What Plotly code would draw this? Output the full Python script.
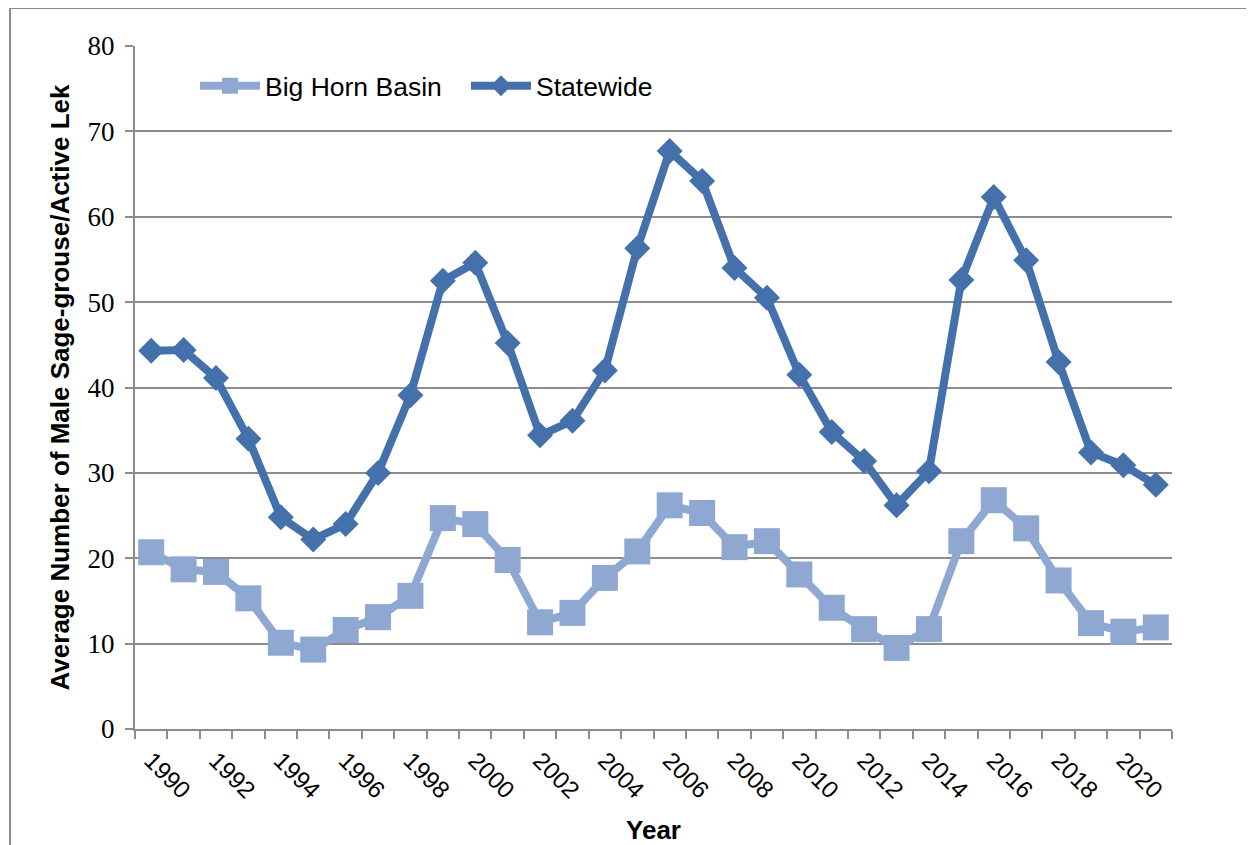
import plotly.graph_objects as go

years = list(range(1990, 2022))
big_horn_basin = [20.7, 18.7, 18.4, 15.3, 10.1, 9.3, 11.6, 13.1, 15.6, 24.7,
                  24.0, 19.8, 12.5, 13.6, 17.7, 20.8, 26.2, 25.3, 21.3, 22.0,
                  18.1, 14.2, 11.7, 9.5, 11.7, 22.0, 26.8, 23.5, 17.4, 12.4,
                  11.4, 11.9]
statewide = [44.3, 44.4, 41.1, 34.0, 24.8, 22.2, 24.0, 30.0, 39.1, 52.5,
             54.6, 45.2, 34.4, 36.1, 42.0, 56.3, 67.7, 64.2, 54.0, 50.5,
             41.5, 34.8, 31.4, 26.2, 30.2, 52.6, 62.3, 54.9, 43.0, 32.4,
             30.9, 28.6]
tick_years = list(range(1990, 2021, 2))
tick_labels = [str(y) for y in tick_years]

OFF = 8  # page body margin
W, H = 1254 - OFF, 845 - OFF
ML, MR, MT, MB = 135 - OFF, 82, 46 - OFF, 116
PW, PH = W - ML - MR, H - MT - MB

c_bhb = "#8FA8D1"
c_sw = "#4471AB"

fig = go.Figure()
fig.add_trace(go.Scatter(
    x=years, y=big_horn_basin, name="Big Horn Basin", mode="lines+markers",
    line=dict(color=c_bhb, width=8),
    marker=dict(symbol="square", size=26, color=c_bhb),
))
fig.add_trace(go.Scatter(
    x=years, y=statewide, name="Statewide", mode="lines+markers",
    line=dict(color=c_sw, width=8),
    marker=dict(symbol="diamond", size=20, color=c_sw),
))

def px_x(p):
    # p is page pixel x
    return (p - OFF - ML) / PW

def px_y(p):
    return (H + OFF - MB - p) / PH

fig.add_shape(type="rect", xref="paper", yref="paper",
              x0=px_x(10), x1=px_x(1300), y0=px_y(8), y1=px_y(900),
              line=dict(color="#8C8C8C", width=2), fillcolor="rgba(0,0,0,0)",
              layer="below")

fig.update_layout(
    width=W, height=H,
    margin=dict(l=ML, r=MR, t=MT, b=MB),
    paper_bgcolor="white", plot_bgcolor="white",
    showlegend=True,
    legend=dict(orientation="h", x=px_x(195), y=px_y(86), xanchor="left",
                yanchor="middle",
                font=dict(family="Liberation Sans", size=26.5, color="black"),
                itemwidth=60, entrywidth=196, entrywidthmode="pixels",
                bgcolor="rgba(0,0,0,0)"),
    xaxis=dict(
        range=[1989.5, 2021.5], tickmode="array", tickvals=tick_years,
        ticktext=tick_labels, tickangle=45, ticks="", showgrid=False,
        zeroline=False, showline=True, linecolor="#8C8C8C", linewidth=2,
        ticklabelstandoff=6,
        tickfont=dict(family="Liberation Sans", size=24, color="black"),
        minor=dict(ticks="outside", tick0=1989.5, dtick=1, ticklen=8,
                   tickcolor="#8C8C8C", tickwidth=2, showgrid=False),
        title=dict(text="<b>Year</b>",
                   font=dict(family="Liberation Sans", size=26, color="black"),
                   standoff=25),
        automargin=False,
    ),
    yaxis=dict(
        range=[0, 80], dtick=10, tick0=0, showgrid=True, gridcolor="#8C8C8C",
        gridwidth=2, zeroline=False, showline=True, linecolor="#8C8C8C", linewidth=2,
        ticks="outside", ticklen=8, tickcolor="#8C8C8C", tickwidth=2,
        ticklabelstandoff=5,
        tickfont=dict(family="Liberation Serif, Times New Roman, DejaVu Serif, serif",
                      size=27, color="black"),
        title=dict(text="<b>Average Number of Male Sage-grouse/Active Lek</b>",
                   font=dict(family="Liberation Sans", size=26, color="black"),
                   standoff=10),
        automargin=False,
    ),
)

fig.write_html("out.html")
